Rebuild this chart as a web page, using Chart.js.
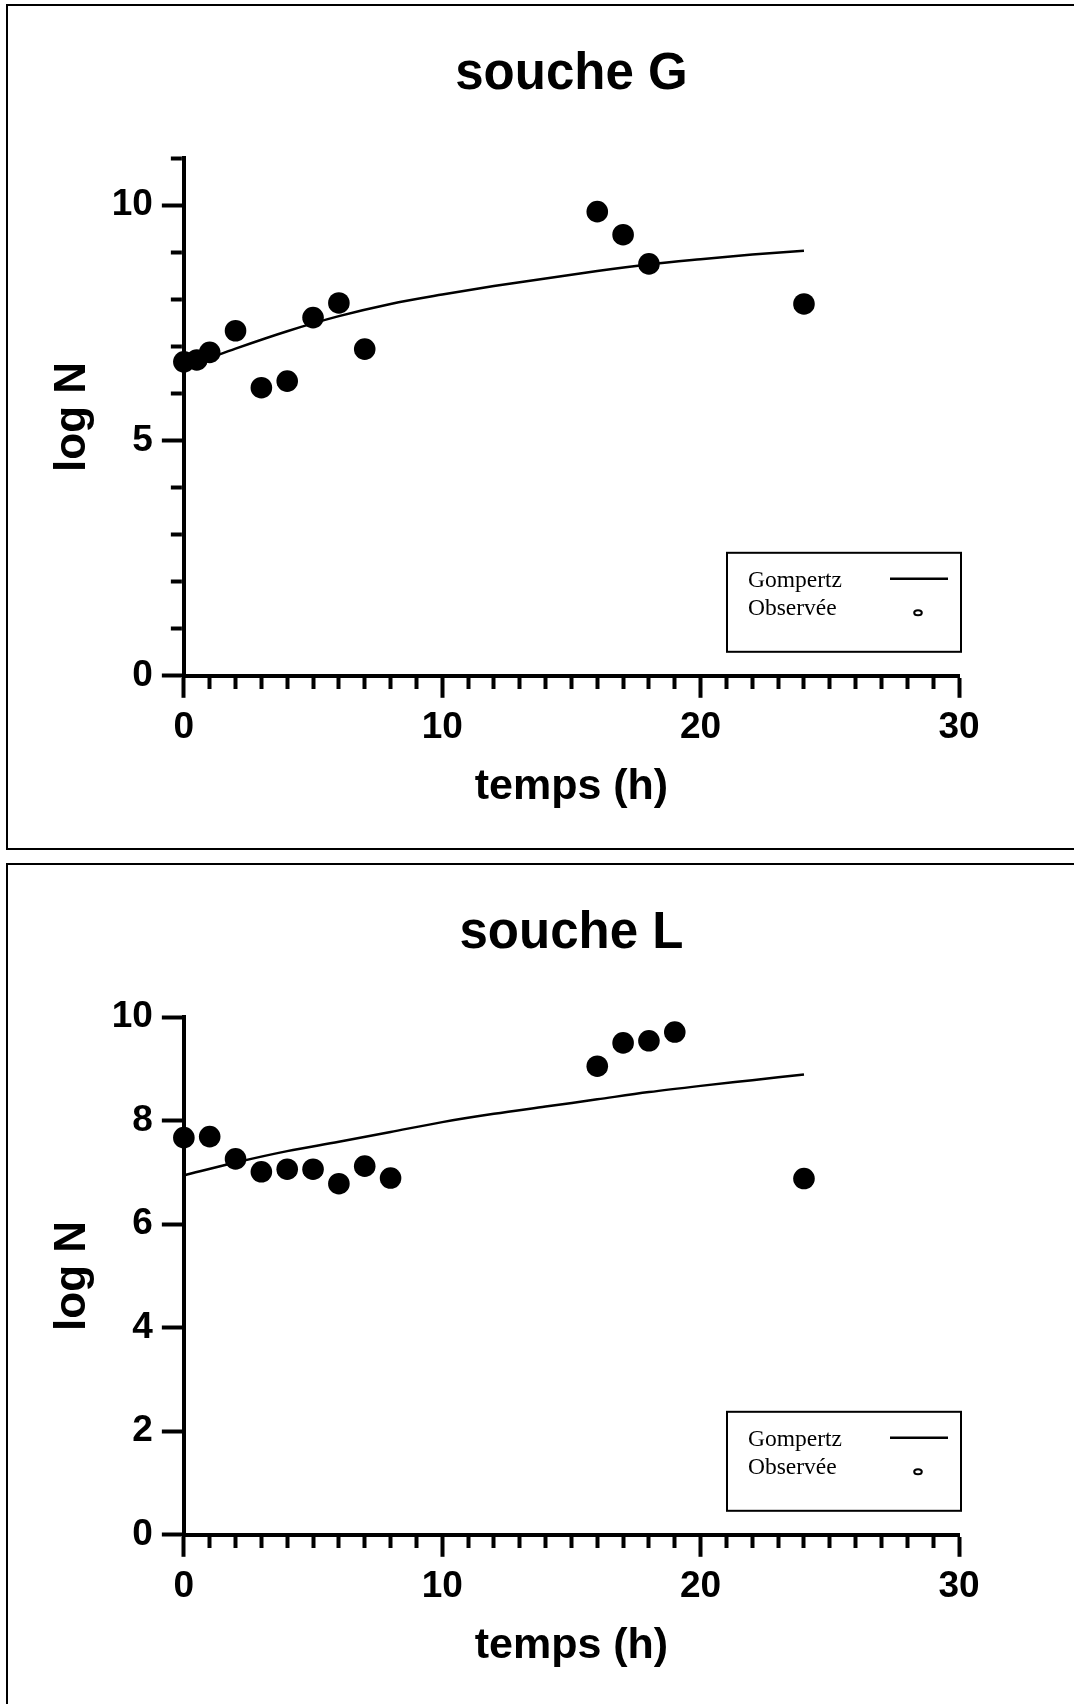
<!DOCTYPE html>
<html lang="fr">
<head>
<meta charset="utf-8">
<title>souche G / souche L</title>
<script src="https://cdn.jsdelivr.net/npm/chart.js"></script>
<style>
  html, body { margin: 0; padding: 0; background: #fff; }
  body { width: 1074px; height: 1704px; position: relative; overflow: hidden; }
  .panel { position: absolute; left: 6px; width: 1100px; border: 2px solid #000; box-sizing: border-box; }
  .wrap { position: absolute; left: 8px; width: 1066px; height: 840px; }
</style>
</head>
<body>
<div class="panel" style="top:4px; height:846px;"></div>
<div class="panel" style="top:863px; height:900px;"></div>
<div class="wrap" style="top:6px;"><canvas id="chartG"></canvas></div>
<div class="wrap" style="top:865px;"><canvas id="chartL"></canvas></div>

<script>
// ── Data ───────────────────────────────────────────────────────────────────
// souche G : observed points
const tempsG = [0, 0.5, 1, 2, 3, 4, 5, 6, 7, 16, 17, 18, 24];
const logNG  = [6.67, 6.71, 6.87, 7.33, 6.12, 6.26, 7.61, 7.92, 6.94, 9.86, 9.37, 8.75, 7.90];
// souche G : Gompertz curve
const courbeTempsG = [0, 1, 2, 4, 6, 8, 10, 12, 14, 16, 18, 20, 22, 24];
const courbeG      = [6.55, 6.75, 6.95, 7.32, 7.64, 7.90, 8.10, 8.28, 8.44, 8.60, 8.74, 8.85, 8.95, 9.03];

// souche L : observed points
const tempsL = [0, 1, 2, 3, 4, 5, 6, 7, 8, 16, 17, 18, 19, 24];
const logNL  = [7.67, 7.69, 7.26, 7.01, 7.06, 7.06, 6.78, 7.12, 6.89, 9.05, 9.50, 9.54, 9.71, 6.88];
// souche L : Gompertz curve
const courbeTempsL = [0, 2, 4, 6, 8, 10, 12, 14, 16, 18, 20, 22, 24];
const courbeL      = [6.94, 7.19, 7.41, 7.59, 7.78, 7.97, 8.13, 8.27, 8.41, 8.55, 8.67, 8.78, 8.89];

const seriesLabels = ['Gompertz', 'Observée'];

Chart.defaults.font.family = '"Liberation Sans", Arial, Helvetica, sans-serif';
Chart.defaults.color = '#000';

const toXY = (xs, ys) => xs.map((x, i) => ({ x: x, y: ys[i] }));

// ── Legend box drawn inside the plot (lower right) ─────────────────────────
const legendBox = {
    id: 'legendBox',
    afterDraw(chart) {
        const { ctx, chartArea: a } = chart;
        const left = a.right - 232, top = a.bottom - 123;
        ctx.save();
        ctx.strokeStyle = '#000';
        ctx.lineWidth = 2;
        ctx.strokeRect(left, top, 234, 99);
        ctx.fillStyle = '#000';
        ctx.font = '23.5px "Liberation Serif", "Times New Roman", serif';
        ctx.textBaseline = 'alphabetic';
        ctx.textAlign = 'left';
        ctx.fillText(chart.data.datasets[0].label, left + 21, top + 34);
        ctx.fillText(chart.data.datasets[1].label, left + 21, top + 62);
        ctx.beginPath();
        ctx.moveTo(left + 163, top + 26);
        ctx.lineTo(left + 221, top + 26);
        ctx.lineWidth = 2.5;
        ctx.stroke();
        ctx.beginPath();
        ctx.ellipse(left + 191, top + 60, 3.8, 2.5, 0, 0, Math.PI * 2);
        ctx.lineWidth = 2;
        ctx.stroke();
        ctx.restore();
    }
};

// ── Chart factory ──────────────────────────────────────────────────────────
function makeChart(canvasId, titre, obsT, obsV, fitT, fitV, yMax, yStep, yMajor) {
    const isMinorX = c => c.tick && c.tick.value % 10 !== 0;
    const isMinorY = c => c.tick && c.tick.value % yMajor !== 0;

    return new Chart(document.getElementById(canvasId).getContext('2d'), {
        type: 'scatter',
        data: {
            datasets: [
                {
                    label: seriesLabels[0],
                    data: toXY(fitT, fitV),
                    showLine: true,
                    borderColor: '#000',
                    borderWidth: 2.5,
                    pointRadius: 0,
                    pointHoverRadius: 0,
                    cubicInterpolationMode: 'monotone',
                    fill: false
                },
                {
                    label: seriesLabels[1],
                    data: toXY(obsT, obsV),
                    backgroundColor: '#000',
                    borderColor: '#000',
                    borderWidth: 0,
                    pointRadius: 10.8,
                    pointHoverRadius: 10.8,
                    clip: false
                }
            ]
        },
        options: {
            responsive: true,
            maintainAspectRatio: false,
            animation: false,
            events: [],
            layout: { padding: { top: 10, left: 20, right: 115, bottom: 33 } },
            plugins: {
                legend: { display: false },
                tooltip: { enabled: false },
                title: {
                    display: true,
                    text: titre,
                    fullSize: false,
                    color: '#000',
                    font: { size: 51, weight: 'bold' },
                    padding: { top: 28.7, bottom: 52.1 }
                }
            },
            scales: {
                x: {
                    type: 'linear',
                    min: 0,
                    max: 30,
                    border: { display: true, color: '#000', width: 4 },
                    grid: {
                        drawOnChartArea: false,
                        drawTicks: true,
                        tickLength: 22,
                        tickWidth: 4,
                        tickColor: '#000',
                        tickBorderDash: c => isMinorX(c) ? [11, 100] : []
                    },
                    ticks: {
                        stepSize: 1,
                        autoSkip: false,
                        maxRotation: 0,
                        minRotation: 0,
                        padding: 10,
                        color: '#000',
                        font: { size: 37, weight: 'bold', lineHeight: 1.1 },
                        callback: v => v % 10 === 0 ? v : ''
                    },
                    title: {
                        display: true,
                        text: 'temps (h)',
                        color: '#000',
                        font: { size: 43, weight: 'bold' },
                        padding: { top: 2.9, bottom: 0 }
                    }
                },
                y: {
                    type: 'linear',
                    min: 0,
                    max: yMax,
                    border: { display: true, color: '#000', width: 4 },
                    grid: {
                        drawOnChartArea: false,
                        drawTicks: true,
                        tickLength: 22,
                        tickWidth: 4,
                        tickColor: '#000',
                        tickBorderDash: c => isMinorY(c) ? [11, 9] : [],
                        tickBorderDashOffset: c => isMinorY(c) ? 11 : 0
                    },
                    ticks: {
                        stepSize: yStep,
                        autoSkip: false,
                        padding: 9,
                        color: '#000',
                        font: { size: 37, weight: 'bold' },
                        callback: v => v % yMajor === 0 ? v : ''
                    },
                    title: {
                        display: true,
                        text: 'log N',
                        color: '#000',
                        font: { size: 44, weight: 'bold' },
                        padding: { top: 18.1, bottom: 3.8 }
                    }
                }
            }
        },
        plugins: [legendBox]
    });
}

// ── Build both panels ──────────────────────────────────────────────────────
const chartG = makeChart('chartG', 'souche G', tempsG, logNG, courbeTempsG, courbeG, 11, 1, 5);
const chartL = makeChart('chartL', 'souche L', tempsL, logNL, courbeTempsL, courbeL, 10, 2, 2);
</script>
</body>
</html>
